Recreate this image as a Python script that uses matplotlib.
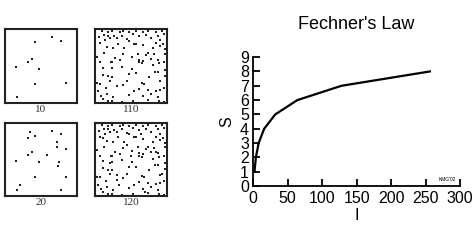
import matplotlib
matplotlib.use("Agg")
import matplotlib.pyplot as plt

# --- datos: puntos de los cuatro recuadros (coordenadas 0-100 dentro del recuadro) ---
dots_10_x = [65, 79, 41, 37, 32, 14, 47, 42, 85, 16]
dots_10_y = [90, 85, 83, 60, 56, 49, 46, 25, 26, 7]

dots_20_x = [34, 65, 41, 79, 31, 72, 73, 85, 37, 32, 59, 14, 47, 75, 74, 42, 85, 20, 16, 78]
dots_20_y = [89, 90, 83, 85, 80, 74, 68, 64, 61, 56, 56, 48, 46, 47, 41, 25, 25, 15, 7, 8]

dots_110 = [
    (9, 98), (17, 97), (24, 98), (34, 97), (39, 98), (47, 97), (58, 98), (67, 97), (75, 98), (85, 97), (94, 98),
    (12, 93), (18, 92), (26, 91), (38, 92), (53, 94), (62, 91), (71, 93), (88, 92), (97, 94),
    (21, 89), (30, 88), (14, 86), (44, 87), (78, 89), (92, 86),
    (7, 82), (32, 81), (54, 81), (58, 81), (67, 79), (85, 82), (95, 80),
    (16, 76), (25, 75), (41, 75), (81, 75), (91, 77), (98, 73),
    (12, 68), (39, 66), (60, 67), (75, 68), (83, 66), (71, 65),
    (28, 61), (52, 62), (62, 59), (78, 60), (88, 59), (67, 57),
    (7, 55), (22, 55), (24, 55), (61, 55), (66, 54), (90, 54), (97, 55),
    (10, 48), (23, 47), (37, 49), (51, 46), (84, 42), (88, 42), (98, 45),
    (11, 38), (17, 36), (23, 35), (47, 39), (76, 35), (98, 37),
    (21, 30), (44, 30), (66, 27), (69, 25), (92, 29), (7, 25),
    (30, 22), (55, 15), (62, 18), (75, 17), (85, 16), (92, 17), (97, 20),
    (8, 9), (16, 12), (25, 8), (48, 10), (67, 9), (78, 12), (88, 8),
    (11, 4), (18, 2), (24, 2), (37, 1), (53, 2), (74, 3), (90, 2), (97, 1),
    (5, 90), (2, 63), (2, 26), (3, 15), (48, 85), (35, 58), (58, 40), (39, 24), (15, 20), (81, 51), (99, 67),
]
dots_120_extra = [(45, 70), (20, 45), (70, 5), (30, 28), (85, 60), (50, 55), (10, 80), (65, 85), (94, 30), (33, 14)]

# --- datos: curva de Fechner ---
intensity = [2, 4, 8, 16, 32, 64, 128, 256]
sensation = [1, 2, 3, 4, 5, 6, 7, 8]

fig = plt.figure(figsize=(4.74, 2.42), dpi=100)

# recuadros con puntos
panels = [
    ([0.0105, 0.574, 0.152, 0.306], dots_10_x, dots_10_y, "10", 1.6),
    ([0.200, 0.574, 0.152, 0.306], [p[0] for p in dots_110], [p[1] for p in dots_110], "110", 1.6),
    ([0.0105, 0.190, 0.152, 0.302], dots_20_x, dots_20_y, "20", 1.6),
    ([0.200, 0.190, 0.152, 0.302],
     [p[0] for p in dots_110 + dots_120_extra], [p[1] for p in dots_110 + dots_120_extra], "120", 1.6),
]
for rect, xs, ys, label, ms in panels:
    ax = fig.add_axes(rect)
    ax.plot(xs, ys, "s", color="#222222", markersize=ms, markeredgewidth=0)
    ax.set_xlim(-1, 101)
    ax.set_ylim(-1, 101)
    ax.set_xticks([])
    ax.set_yticks([])
    for sp in ax.spines.values():
        sp.set_linewidth(1.5)
        sp.set_color("#222222")
    ax.set_xlabel(label, fontsize=8, family="Liberation Serif", labelpad=1.5, color="#333333")

# grafico de la ley de Fechner
ax = fig.add_axes([0.534, 0.231, 0.437, 0.533])
ax.plot(intensity, sensation, color="black", linewidth=1.6, clip_on=False)
ax.set_xlim(0, 300)
ax.set_ylim(0, 9)
ax.set_xticks(range(0, 301, 50))
ax.set_yticks(range(0, 10))
ax.spines["top"].set_visible(False)
ax.spines["right"].set_visible(False)
for sp in ("left", "bottom"):
    ax.spines[sp].set_linewidth(1.3)
ax.tick_params(direction="in", length=5, width=1.3, labelsize=11.5)
ax.tick_params(axis="x", pad=3.5)
ax.tick_params(axis="y", pad=3)
for t in ax.get_xticklabels() + ax.get_yticklabels():
    t.set_family("Liberation Sans")
ax.set_xlabel("I", fontsize=11.5, family="Liberation Sans", labelpad=1.5)
ax.set_ylabel("S", fontsize=11.5, family="Liberation Sans", labelpad=4)
ax.set_title("Fechner's Law", fontsize=13, family="Liberation Sans", pad=20)
ax.text(0.94, 0.03, "KMG'02", transform=ax.transAxes, fontsize=3.5,
        family="Liberation Sans", ha="center", va="bottom")

fig.savefig("out.png", dpi=100)
